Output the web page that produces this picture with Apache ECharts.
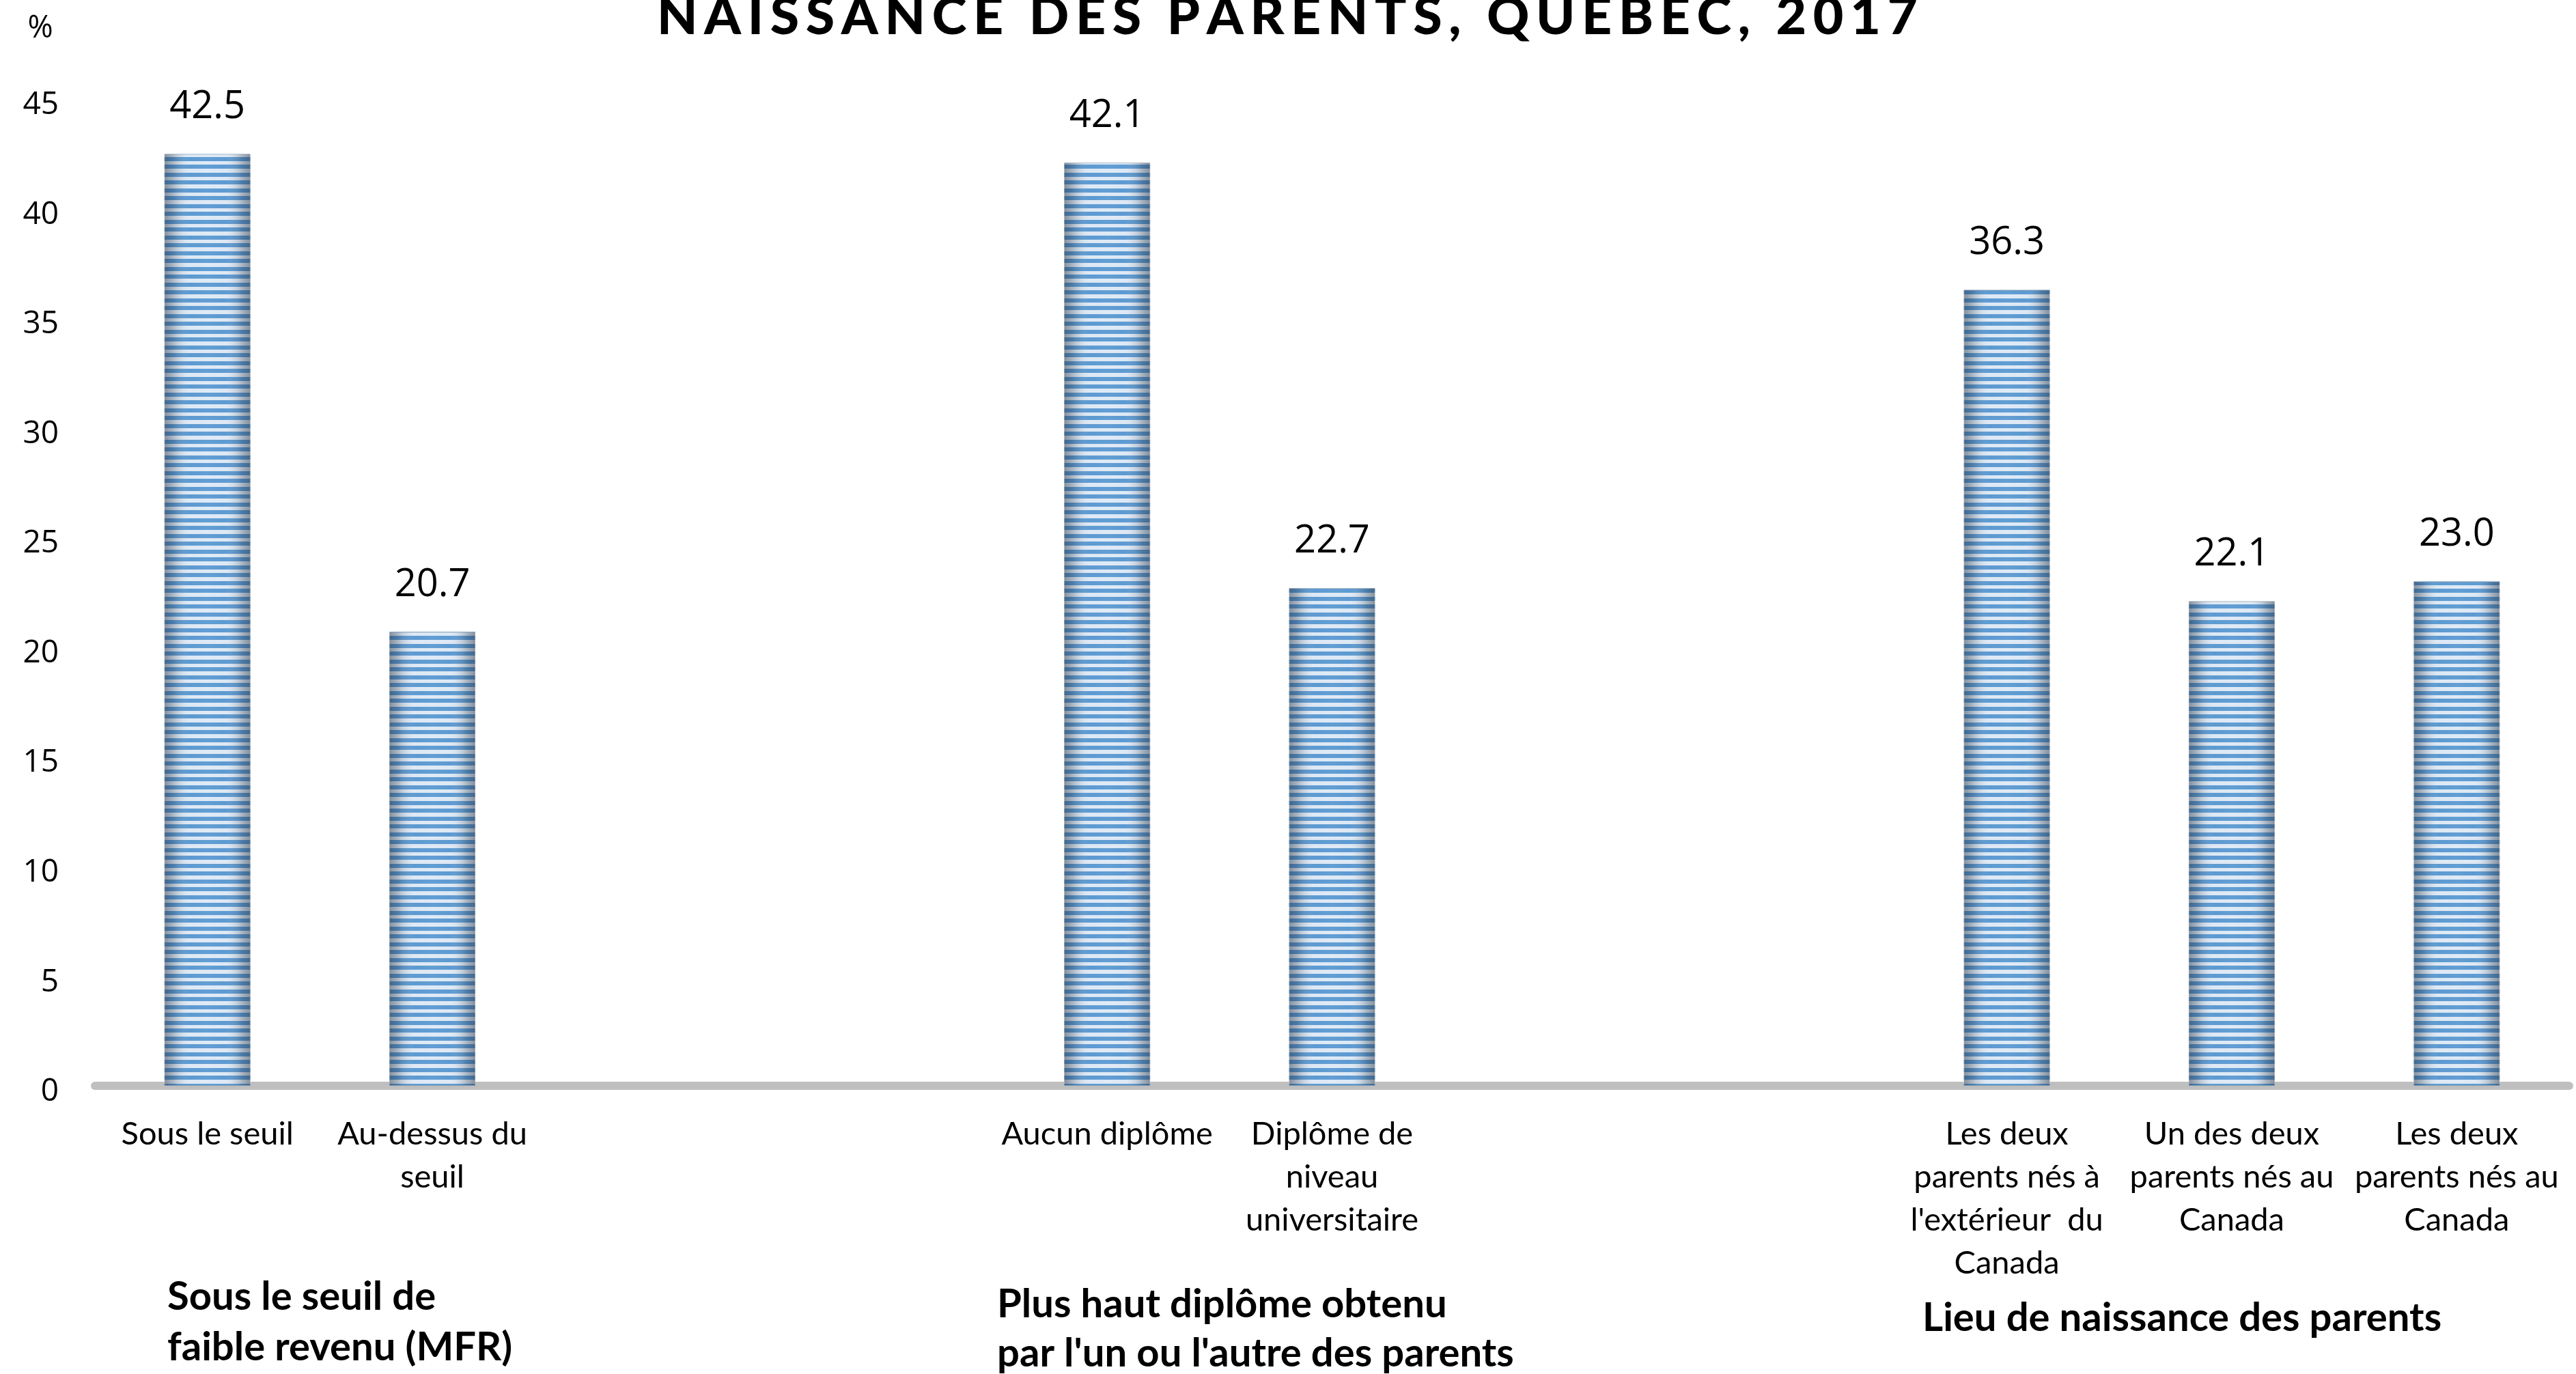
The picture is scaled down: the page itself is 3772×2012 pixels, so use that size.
<!DOCTYPE html>
<html>
<head>
<meta charset="utf-8">
<script src="https://cdn.jsdelivr.net/npm/echarts@6/dist/echarts.min.js"></script>
<style>
  html, body { margin: 0; padding: 0; background: #fff; }
  #chart { width: 3772px; height: 2012px; }
</style>
</head>
<body>
<div id="chart"></div>
<script>
// categories (empty slots separate the three groups)
const categories = [
  'Sous le seuil',
  'Au-dessus du\nseuil',
  '', '',
  'Aucun diplôme',
  'Diplôme de\nniveau\nuniversitaire',
  '', '',
  "Les deux\nparents nés à\nl'extérieur  du\nCanada",
  'Un des deux\nparents nés au\nCanada',
  'Les deux\nparents nés au\nCanada'
]
const values = [42.5, 20.7, null, null, 42.1, 22.7, null, null, 36.3, 22.1, 23.0]
const groupLabels = [
  'Sous le seuil de\nfaible revenu (MFR)',
  "Plus haut diplôme obtenu\npar l'un ou l'autre des parents",
  'Lieu de naissance des parents'
]
const titleText = 'NAISSANCE DES PARENTS, QUÉBEC, 2017'
const yMax = 45
const yStep = 5

// striped fill for the bars
const stripe = document.createElement('canvas')
stripe.width = 8
stripe.height = 23
const sctx = stripe.getContext('2d')
sctx.fillStyle = '#DCE8F5'
sctx.fillRect(0, 0, 8, 23)
sctx.fillStyle = '#5696D0'
sctx.fillRect(0, 0, 8, 6)
sctx.fillRect(0, 11, 8, 6)

const chart = echarts.init(document.getElementById('chart'))

const shade = {
  type: 'linear', x: 0, y: 0, x2: 1, y2: 0,
  colorStops: [
    { offset: 0, color: 'rgba(45,55,70,0.5)' },
    { offset: 0.1, color: 'rgba(45,55,70,0.28)' },
    { offset: 0.3, color: 'rgba(255,255,255,0.04)' },
    { offset: 0.5, color: 'rgba(255,255,255,0.08)' },
    { offset: 0.7, color: 'rgba(255,255,255,0.04)' },
    { offset: 0.9, color: 'rgba(45,55,70,0.28)' },
    { offset: 1, color: 'rgba(45,55,70,0.5)' }
  ]
}

const option = {
  animation: false,
  backgroundColor: '#ffffff',
  grid: { left: 139, right: 10, top: 145, bottom: 422, containLabel: false },
  xAxis: {
    type: 'category',
    data: categories,
    offset: 6,
    axisLine: { lineStyle: { color: '#BFBFBF', width: 12 } },
    axisTick: { show: false },
    splitLine: { show: false },
    axisLabel: {
      interval: 0,
      margin: 33,
      fontFamily: 'Lato',
      fontSize: 47,
      lineHeight: 63,
      color: '#000'
    }
  },
  yAxis: {
    type: 'value',
    min: 0,
    max: yMax,
    interval: yStep,
    axisLine: { show: false },
    axisTick: { show: false },
    splitLine: { show: false },
    axisLabel: {
      margin: 53,
      verticalAlign: 'top',
      lineHeight: 18,
      fontFamily: 'Open Sans',
      fontSize: 46,
      color: '#000'
    }
  },
  series: [
    {
      type: 'bar',
      data: values,
      barWidth: 126,
      barGap: '-100%',
      itemStyle: { color: { image: stripe, repeat: 'repeat' } },
      label: {
        show: true,
        position: 'top',
        distance: 40,
        fontFamily: 'Open Sans',
        fontSize: 56,
        color: '#000',
        formatter: (p) => p.value == null ? '' : p.value.toFixed(1)
      },
      z: 2
    },
    {
      type: 'bar',
      data: values,
      barWidth: 126,
      barGap: '-100%',
      silent: true,
      itemStyle: { color: shade, borderColor: 'rgba(150,160,172,0.6)', borderWidth: 1 },
      label: { show: false },
      z: 3
    }
  ],
  graphic: [
    {
      type: 'text', x: 1885, y: 25,
      style: {
        text: titleText.split('').join('\u2009'),
        fontFamily: 'Lato', fontWeight: 900, fontSize: 77,
        fill: '#000', align: 'center', verticalAlign: 'middle'
      }
    },
    {
      type: 'text', x: 59, y: 42,
      style: {
        text: '%', fontFamily: 'Open Sans', fontSize: 45,
        fill: '#000', align: 'center', verticalAlign: 'middle'
      }
    },
    {
      type: 'text', x: 245, y: 1862,
      style: {
        text: groupLabels[0], fontFamily: 'Lato', fontWeight: 'bold', fontSize: 58,
        lineHeight: 74, fill: '#000', align: 'left', verticalAlign: 'top'
      }
    },
    {
      type: 'text', x: 1460, y: 1874,
      style: {
        text: groupLabels[1], fontFamily: 'Lato', fontWeight: 'bold', fontSize: 58,
        lineHeight: 72, fill: '#000', align: 'left', verticalAlign: 'top'
      }
    },
    {
      type: 'text', x: 2815, y: 1893,
      style: {
        text: groupLabels[2], fontFamily: 'Lato', fontWeight: 'bold', fontSize: 58,
        lineHeight: 74, fill: '#000', align: 'left', verticalAlign: 'top'
      }
    }
  ]
}

chart.setOption(option)
window.addEventListener('resize', () => chart.resize())
</script>
</body>
</html>
